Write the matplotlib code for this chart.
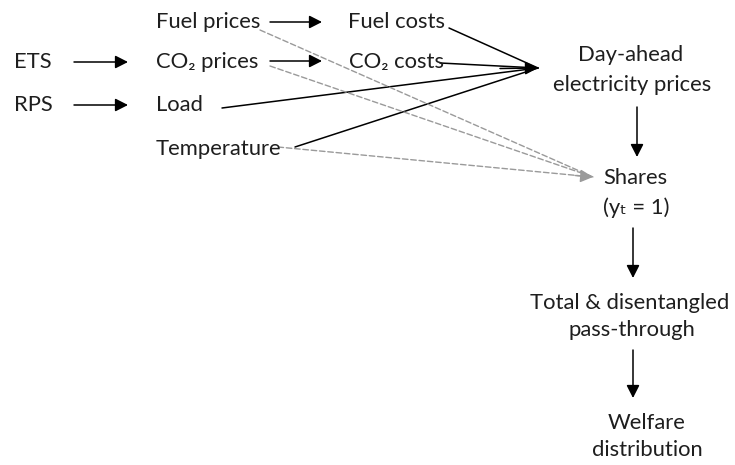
import matplotlib
matplotlib.use("Agg")
import matplotlib.pyplot as plt
from matplotlib.patches import FancyArrowPatch

plt.rcParams['font.family'] = ['Lato', 'DejaVu Sans']

# ---- diagram content ----
policy_labels = ["ETS", "RPS"]
driver_labels = ["Fuel prices", "CO\u2082 prices", "Load", "Temperature"]
cost_labels = ["Fuel costs", "CO\u2082 costs"]
outcome_labels = [["Day-ahead", "electricity prices"],
                  ["Shares", "(y\u209c = 1)"],
                  ["Total & disentangled", "pass-through"],
                  ["Welfare", "distribution"]]

# ---- layout (pixel coordinates) ----
W, H = 735, 465
fig = plt.figure(figsize=(W / 100, H / 100), dpi=100)
ax = fig.add_axes([0, 0, 1, 1])
ax.set_xlim(0, W)
ax.set_ylim(H, 0)
ax.axis('off')

FS = 15.8
TC = '#1e1e1e'
left_pos = {"ETS": (14, 62), "RPS": (14, 105)}
driver_pos = {"Fuel prices": (156, 22), "CO\u2082 prices": (156, 62),
              "Load": (156, 105), "Temperature": (156, 149)}
cost_pos = {"Fuel costs": (348, 22), "CO\u2082 costs": (349, 62)}
outcome_pos = [[(631, 55), (632, 85)],
               [(603, 178), (603, 208)],
               [(630, 303), (632, 330)],
               [(647, 423), (647, 450)]]
outcome_ha = ['center', 'left', 'center', 'center']

for lab in policy_labels:
    x, y = left_pos[lab]
    ax.text(x, y, lab, fontsize=FS, ha='left', va='center', color=TC)
for lab in driver_labels:
    x, y = driver_pos[lab]
    ax.text(x, y, lab, fontsize=FS, ha='left', va='center', color=TC)
for lab in cost_labels:
    x, y = cost_pos[lab]
    ax.text(x, y, lab, fontsize=FS, ha='left', va='center', color=TC)
for i, lines in enumerate(outcome_labels):
    for j, line in enumerate(lines):
        x, y = outcome_pos[i][j]
        ax.text(x, y, line, fontsize=FS, ha=outcome_ha[i], va='center',
                color=TC)


def arrow(p0, p1, color='black', ls='-', head=True, lw=1.1):
    style = '-|>,head_length=0.55,head_width=0.28' if head else '-'
    a = FancyArrowPatch(p0, p1, arrowstyle=style, color=color, lw=lw,
                        linestyle=ls, mutation_scale=14, shrinkA=0, shrinkB=0)
    ax.add_patch(a)

# short horizontal arrows
arrow((74, 62), (128, 62))
arrow((74, 105), (128, 105))
arrow((270, 22), (322, 22))
arrow((270, 61), (322, 61))

# solid lines converging on electricity prices
conv = (538, 68)
arrow((449, 28), conv, head=False)
arrow((440, 63), conv, head=False)
arrow((222, 108), conv, head=False)
arrow((295, 147), conv, head=False)
arrow((500, 68.5), conv, head=True)

# dashed gray lines to shares
tip = (593, 177)
gray = '#9a9a9a'
arrow((260, 30), tip, color=gray, ls=(0, (4, 2)), head=False, lw=1.0)
arrow((270, 66), tip, color=gray, ls=(0, (4, 2)), head=False, lw=1.0)
arrow((278, 147), tip, color=gray, ls=(0, (4, 2)), head=False, lw=1.0)
arrow((575, 175.5), tip, color=gray, head=True, lw=1.0)

# vertical arrows
arrow((637, 107), (637, 157))
arrow((633, 228), (633, 278))
arrow((633, 350), (633, 398))

fig.savefig("out.png", dpi=100)
